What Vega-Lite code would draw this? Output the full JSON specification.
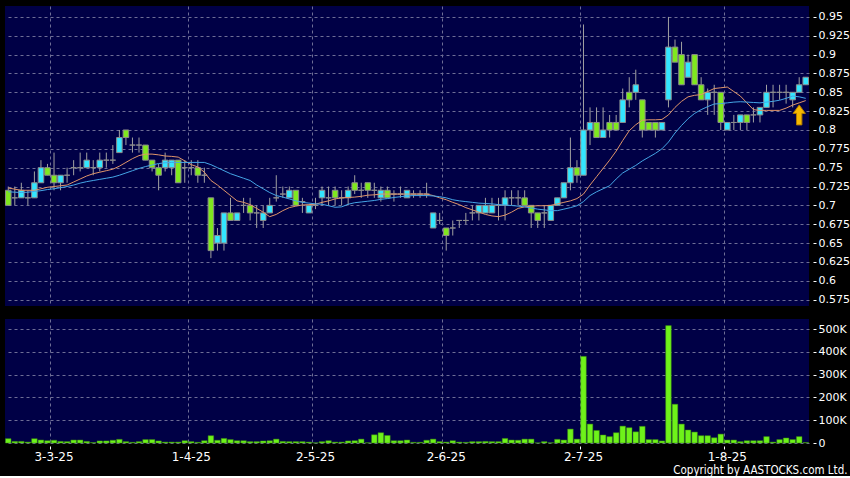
{
"$schema": "https://vega.github.io/schema/vega-lite/v6.json",
"background": "#000000",
"padding": {"left": 4, "top": 6, "right": 0, "bottom": 0},
"spacing": 13,
"config": {
  "view": {"fill": "#000046", "stroke": null},
  "font": "DejaVu Sans",
  "axis": {"labelColor": "#FFFFFF", "labelFont": "DejaVu Sans", "labelFontSize": 11, "tickColor": "#FFFFFF", "domain": false, "gridColor": "#6E6E96", "gridDash": [3, 3], "gridWidth": 1, "labelOverlap": false}
},
"datasets": {
  "k": [
{"d":"2025-02-20","o":0.72,"h":0.725,"l":0.70,"c":0.70,"v":19000,"m10":0.723,"m20":0.718},
{"d":"2025-02-21","o":0.71,"h":0.725,"l":0.70,"c":0.71,"v":7000,"m10":0.7215,"m20":0.7175},
{"d":"2025-02-24","o":0.71,"h":0.73,"l":0.71,"c":0.72,"v":7000,"m10":0.72,"m20":0.717},
{"d":"2025-02-25","o":0.71,"h":0.72,"l":0.70,"c":0.71,"v":4000,"m10":0.72,"m20":0.7175},
{"d":"2025-02-26","o":0.71,"h":0.745,"l":0.71,"c":0.73,"v":19000,"m10":0.72,"m20":0.7185},
{"d":"2025-02-27","o":0.73,"h":0.76,"l":0.73,"c":0.75,"v":13000,"m10":0.722,"m20":0.7195},
{"d":"2025-02-28","o":0.75,"h":0.755,"l":0.74,"c":0.74,"v":10000,"m10":0.724,"m20":0.721},
{"d":"2025-03-03","o":0.74,"h":0.77,"l":0.72,"c":0.73,"v":12000,"m10":0.725,"m20":0.722},
{"d":"2025-03-04","o":0.73,"h":0.74,"l":0.72,"c":0.74,"v":7000,"m10":0.726,"m20":0.7235},
{"d":"2025-03-05","o":0.74,"h":0.75,"l":0.73,"c":0.74,"v":6000,"m10":0.727,"m20":0.725},
{"d":"2025-03-06","o":0.75,"h":0.76,"l":0.74,"c":0.75,"v":13000,"m10":0.731,"m20":0.727},
{"d":"2025-03-07","o":0.75,"h":0.77,"l":0.745,"c":0.75,"v":13000,"m10":0.735,"m20":0.7295},
{"d":"2025-03-10","o":0.75,"h":0.77,"l":0.75,"c":0.76,"v":7000,"m10":0.739,"m20":0.7315},
{"d":"2025-03-11","o":0.75,"h":0.76,"l":0.74,"c":0.75,"v":2000,"m10":0.742,"m20":0.733},
{"d":"2025-03-12","o":0.75,"h":0.77,"l":0.745,"c":0.76,"v":9000,"m10":0.744,"m20":0.7345},
{"d":"2025-03-13","o":0.76,"h":0.77,"l":0.75,"c":0.76,"v":9000,"m10":0.746,"m20":0.736},
{"d":"2025-03-14","o":0.76,"h":0.78,"l":0.755,"c":0.76,"v":12000,"m10":0.748,"m20":0.7375},
{"d":"2025-03-17","o":0.77,"h":0.80,"l":0.77,"c":0.79,"v":16000,"m10":0.752,"m20":0.74},
{"d":"2025-03-18","o":0.80,"h":0.80,"l":0.78,"c":0.79,"v":6000,"m10":0.757,"m20":0.743},
{"d":"2025-03-19","o":0.78,"h":0.79,"l":0.77,"c":0.78,"v":3000,"m10":0.762,"m20":0.746},
{"d":"2025-03-20","o":0.78,"h":0.79,"l":0.77,"c":0.78,"v":6000,"m10":0.766,"m20":0.749},
{"d":"2025-03-21","o":0.78,"h":0.78,"l":0.76,"c":0.76,"v":15000,"m10":0.768,"m20":0.7515},
{"d":"2025-03-24","o":0.76,"h":0.76,"l":0.745,"c":0.75,"v":15000,"m10":0.768,"m20":0.7535},
{"d":"2025-03-25","o":0.75,"h":0.755,"l":0.72,"c":0.74,"v":9000,"m10":0.767,"m20":0.7555},
{"d":"2025-03-26","o":0.75,"h":0.77,"l":0.745,"c":0.76,"v":4000,"m10":0.7655,"m20":0.7565},
{"d":"2025-03-27","o":0.75,"h":0.76,"l":0.74,"c":0.76,"v":4000,"m10":0.765,"m20":0.757},
{"d":"2025-03-28","o":0.76,"h":0.76,"l":0.73,"c":0.73,"v":4000,"m10":0.764,"m20":0.757},
{"d":"2025-03-31","o":0.75,"h":0.76,"l":0.73,"c":0.75,"v":10000,"m10":0.759,"m20":0.757},
{"d":"2025-04-01","o":0.75,"h":0.76,"l":0.74,"c":0.75,"v":6000,"m10":0.754,"m20":0.757},
{"d":"2025-04-02","o":0.75,"h":0.76,"l":0.73,"c":0.74,"v":3000,"m10":0.751,"m20":0.757},
{"d":"2025-04-03","o":0.74,"h":0.75,"l":0.73,"c":0.74,"v":10000,"m10":0.744,"m20":0.757},
{"d":"2025-04-07","o":0.71,"h":0.71,"l":0.63,"c":0.64,"v":32000,"m10":0.733,"m20":0.754},
{"d":"2025-04-08","o":0.65,"h":0.67,"l":0.64,"c":0.66,"v":12000,"m10":0.727,"m20":0.75},
{"d":"2025-04-09","o":0.65,"h":0.69,"l":0.64,"c":0.69,"v":20000,"m10":0.72,"m20":0.746},
{"d":"2025-04-10","o":0.69,"h":0.71,"l":0.68,"c":0.68,"v":15000,"m10":0.713,"m20":0.742},
{"d":"2025-04-11","o":0.68,"h":0.69,"l":0.68,"c":0.69,"v":10000,"m10":0.706,"m20":0.739},
{"d":"2025-04-14","o":0.70,"h":0.71,"l":0.69,"c":0.70,"v":10000,"m10":0.704,"m20":0.736},
{"d":"2025-04-15","o":0.70,"h":0.71,"l":0.68,"c":0.69,"v":6000,"m10":0.701,"m20":0.733},
{"d":"2025-04-16","o":0.69,"h":0.70,"l":0.67,"c":0.69,"v":6000,"m10":0.696,"m20":0.727},
{"d":"2025-04-17","o":0.68,"h":0.70,"l":0.67,"c":0.69,"v":9000,"m10":0.691,"m20":0.722},
{"d":"2025-04-22","o":0.69,"h":0.71,"l":0.69,"c":0.70,"v":10000,"m10":0.685,"m20":0.717},
{"d":"2025-04-23","o":0.71,"h":0.74,"l":0.705,"c":0.71,"v":17000,"m10":0.688,"m20":0.713},
{"d":"2025-04-24","o":0.715,"h":0.725,"l":0.71,"c":0.715,"v":7000,"m10":0.693,"m20":0.711},
{"d":"2025-04-25","o":0.71,"h":0.725,"l":0.71,"c":0.72,"v":6000,"m10":0.697,"m20":0.7085},
{"d":"2025-04-28","o":0.72,"h":0.72,"l":0.70,"c":0.70,"v":6000,"m10":0.699,"m20":0.706},
{"d":"2025-04-29","o":0.705,"h":0.71,"l":0.69,"c":0.705,"v":6000,"m10":0.7005,"m20":0.704},
{"d":"2025-04-30","o":0.69,"h":0.70,"l":0.69,"c":0.70,"v":4000,"m10":0.701,"m20":0.703},
{"d":"2025-05-02","o":0.70,"h":0.71,"l":0.695,"c":0.70,"v":1000,"m10":0.7015,"m20":0.702},
{"d":"2025-05-06","o":0.71,"h":0.725,"l":0.70,"c":0.72,"v":6000,"m10":0.704,"m20":0.7015},
{"d":"2025-05-07","o":0.71,"h":0.725,"l":0.70,"c":0.71,"v":10000,"m10":0.706,"m20":0.6995},
{"d":"2025-05-08","o":0.72,"h":0.725,"l":0.70,"c":0.71,"v":4000,"m10":0.7085,"m20":0.6975},
{"d":"2025-05-09","o":0.71,"h":0.72,"l":0.70,"c":0.71,"v":4000,"m10":0.71,"m20":0.698},
{"d":"2025-05-12","o":0.71,"h":0.725,"l":0.70,"c":0.72,"v":9000,"m10":0.7105,"m20":0.7015},
{"d":"2025-05-13","o":0.73,"h":0.74,"l":0.715,"c":0.72,"v":10000,"m10":0.711,"m20":0.7035},
{"d":"2025-05-14","o":0.72,"h":0.73,"l":0.71,"c":0.72,"v":17000,"m10":0.712,"m20":0.7045},
{"d":"2025-05-15","o":0.73,"h":0.73,"l":0.71,"c":0.72,"v":1000,"m10":0.7135,"m20":0.7055},
{"d":"2025-05-16","o":0.72,"h":0.73,"l":0.71,"c":0.72,"v":36000,"m10":0.714,"m20":0.7065},
{"d":"2025-05-19","o":0.71,"h":0.725,"l":0.705,"c":0.72,"v":45000,"m10":0.715,"m20":0.708},
{"d":"2025-05-20","o":0.72,"h":0.725,"l":0.71,"c":0.71,"v":33000,"m10":0.715,"m20":0.709},
{"d":"2025-05-21","o":0.715,"h":0.72,"l":0.705,"c":0.715,"v":10000,"m10":0.715,"m20":0.7105},
{"d":"2025-05-22","o":0.715,"h":0.725,"l":0.71,"c":0.715,"v":10000,"m10":0.715,"m20":0.7115},
{"d":"2025-05-23","o":0.71,"h":0.72,"l":0.71,"c":0.72,"v":13000,"m10":0.715,"m20":0.7125},
{"d":"2025-05-26","o":0.715,"h":0.72,"l":0.71,"c":0.715,"v":3000,"m10":0.715,"m20":0.713},
{"d":"2025-05-27","o":0.715,"h":0.72,"l":0.71,"c":0.715,"v":3000,"m10":0.715,"m20":0.713},
{"d":"2025-05-28","o":0.715,"h":0.73,"l":0.71,"c":0.715,"v":12000,"m10":0.715,"m20":0.713},
{"d":"2025-05-29","o":0.67,"h":0.69,"l":0.67,"c":0.69,"v":17000,"m10":0.713,"m20":0.7125},
{"d":"2025-05-30","o":0.68,"h":0.69,"l":0.675,"c":0.68,"v":6000,"m10":0.71,"m20":0.7115},
{"d":"2025-06-02","o":0.67,"h":0.67,"l":0.64,"c":0.66,"v":4000,"m10":0.7075,"m20":0.71},
{"d":"2025-06-03","o":0.67,"h":0.68,"l":0.66,"c":0.67,"v":10000,"m10":0.704,"m20":0.7075},
{"d":"2025-06-04","o":0.68,"h":0.68,"l":0.67,"c":0.68,"v":4000,"m10":0.701,"m20":0.706},
{"d":"2025-06-05","o":0.68,"h":0.69,"l":0.675,"c":0.68,"v":3000,"m10":0.697,"m20":0.705},
{"d":"2025-06-06","o":0.69,"h":0.70,"l":0.68,"c":0.69,"v":6000,"m10":0.694,"m20":0.704},
{"d":"2025-06-09","o":0.69,"h":0.70,"l":0.68,"c":0.70,"v":6000,"m10":0.691,"m20":0.703},
{"d":"2025-06-10","o":0.69,"h":0.71,"l":0.69,"c":0.70,"v":7000,"m10":0.688,"m20":0.7025},
{"d":"2025-06-11","o":0.69,"h":0.71,"l":0.69,"c":0.70,"v":6000,"m10":0.686,"m20":0.702},
{"d":"2025-06-12","o":0.70,"h":0.71,"l":0.68,"c":0.70,"v":6000,"m10":0.685,"m20":0.701},
{"d":"2025-06-13","o":0.70,"h":0.72,"l":0.68,"c":0.71,"v":20000,"m10":0.687,"m20":0.7005},
{"d":"2025-06-16","o":0.71,"h":0.72,"l":0.70,"c":0.71,"v":13000,"m10":0.691,"m20":0.6998},
{"d":"2025-06-17","o":0.71,"h":0.72,"l":0.70,"c":0.71,"v":12000,"m10":0.696,"m20":0.699},
{"d":"2025-06-18","o":0.71,"h":0.72,"l":0.70,"c":0.70,"v":17000,"m10":0.698,"m20":0.698},
{"d":"2025-06-19","o":0.70,"h":0.70,"l":0.67,"c":0.69,"v":17000,"m10":0.699,"m20":0.6965},
{"d":"2025-06-20","o":0.69,"h":0.69,"l":0.67,"c":0.68,"v":500,"m10":0.6995,"m20":0.695},
{"d":"2025-06-23","o":0.69,"h":0.70,"l":0.67,"c":0.69,"v":6000,"m10":0.6995,"m20":0.694},
{"d":"2025-06-24","o":0.68,"h":0.70,"l":0.68,"c":0.70,"v":1000,"m10":0.70,"m20":0.693},
{"d":"2025-06-25","o":0.70,"h":0.71,"l":0.70,"c":0.71,"v":16000,"m10":0.702,"m20":0.693},
{"d":"2025-06-26","o":0.71,"h":0.73,"l":0.71,"c":0.73,"v":13000,"m10":0.704,"m20":0.695},
{"d":"2025-06-27","o":0.73,"h":0.79,"l":0.72,"c":0.75,"v":61000,"m10":0.706,"m20":0.697},
{"d":"2025-06-30","o":0.75,"h":0.76,"l":0.73,"c":0.74,"v":17000,"m10":0.709,"m20":0.6995},
{"d":"2025-07-02","o":0.74,"h":0.94,"l":0.74,"c":0.80,"v":380000,"m10":0.715,"m20":0.705},
{"d":"2025-07-03","o":0.80,"h":0.83,"l":0.78,"c":0.81,"v":83000,"m10":0.727,"m20":0.713},
{"d":"2025-07-04","o":0.81,"h":0.83,"l":0.79,"c":0.79,"v":55000,"m10":0.738,"m20":0.718},
{"d":"2025-07-07","o":0.79,"h":0.83,"l":0.79,"c":0.80,"v":35000,"m10":0.749,"m20":0.722},
{"d":"2025-07-08","o":0.81,"h":0.82,"l":0.79,"c":0.80,"v":28000,"m10":0.76,"m20":0.726},
{"d":"2025-07-09","o":0.81,"h":0.82,"l":0.80,"c":0.80,"v":45000,"m10":0.772,"m20":0.735},
{"d":"2025-07-10","o":0.81,"h":0.855,"l":0.81,"c":0.84,"v":74000,"m10":0.786,"m20":0.743},
{"d":"2025-07-11","o":0.85,"h":0.87,"l":0.83,"c":0.84,"v":67000,"m10":0.799,"m20":0.748},
{"d":"2025-07-14","o":0.85,"h":0.88,"l":0.84,"c":0.86,"v":49000,"m10":0.807,"m20":0.753},
{"d":"2025-07-15","o":0.84,"h":0.84,"l":0.79,"c":0.80,"v":73000,"m10":0.813,"m20":0.759},
{"d":"2025-07-16","o":0.81,"h":0.81,"l":0.80,"c":0.80,"v":15000,"m10":0.8135,"m20":0.764},
{"d":"2025-07-17","o":0.81,"h":0.81,"l":0.79,"c":0.80,"v":15000,"m10":0.8135,"m20":0.769},
{"d":"2025-07-18","o":0.80,"h":0.81,"l":0.80,"c":0.81,"v":9000,"m10":0.814,"m20":0.775},
{"d":"2025-07-21","o":0.84,"h":0.95,"l":0.83,"c":0.91,"v":515000,"m10":0.82,"m20":0.784},
{"d":"2025-07-22","o":0.91,"h":0.92,"l":0.89,"c":0.89,"v":170000,"m10":0.83,"m20":0.796},
{"d":"2025-07-23","o":0.90,"h":0.917,"l":0.86,"c":0.86,"v":83000,"m10":0.838,"m20":0.806},
{"d":"2025-07-24","o":0.87,"h":0.90,"l":0.87,"c":0.89,"v":57000,"m10":0.844,"m20":0.815},
{"d":"2025-07-25","o":0.90,"h":0.90,"l":0.86,"c":0.86,"v":48000,"m10":0.846,"m20":0.822},
{"d":"2025-07-28","o":0.86,"h":0.87,"l":0.84,"c":0.84,"v":32000,"m10":0.847,"m20":0.827},
{"d":"2025-07-29","o":0.84,"h":0.855,"l":0.82,"c":0.85,"v":32000,"m10":0.851,"m20":0.831},
{"d":"2025-07-30","o":0.85,"h":0.86,"l":0.82,"c":0.85,"v":23000,"m10":0.855,"m20":0.8345},
{"d":"2025-07-31","o":0.85,"h":0.85,"l":0.80,"c":0.81,"v":39000,"m10":0.856,"m20":0.835},
{"d":"2025-08-01","o":0.80,"h":0.81,"l":0.80,"c":0.81,"v":13000,"m10":0.857,"m20":0.836},
{"d":"2025-08-04","o":0.81,"h":0.82,"l":0.80,"c":0.81,"v":13000,"m10":0.851,"m20":0.837},
{"d":"2025-08-05","o":0.81,"h":0.82,"l":0.80,"c":0.82,"v":6000,"m10":0.845,"m20":0.8375},
{"d":"2025-08-06","o":0.82,"h":0.82,"l":0.80,"c":0.81,"v":10000,"m10":0.836,"m20":0.837},
{"d":"2025-08-07","o":0.82,"h":0.83,"l":0.81,"c":0.82,"v":10000,"m10":0.827,"m20":0.8365},
{"d":"2025-08-08","o":0.82,"h":0.83,"l":0.81,"c":0.83,"v":10000,"m10":0.826,"m20":0.836},
{"d":"2025-08-11","o":0.83,"h":0.86,"l":0.83,"c":0.85,"v":28000,"m10":0.826,"m20":0.837},
{"d":"2025-08-12","o":0.85,"h":0.86,"l":0.83,"c":0.85,"v":4000,"m10":0.826,"m20":0.838},
{"d":"2025-08-13","o":0.85,"h":0.86,"l":0.84,"c":0.85,"v":15000,"m10":0.826,"m20":0.8395},
{"d":"2025-08-14","o":0.85,"h":0.86,"l":0.835,"c":0.85,"v":22000,"m10":0.829,"m20":0.842},
{"d":"2025-08-15","o":0.84,"h":0.85,"l":0.83,"c":0.85,"v":15000,"m10":0.833,"m20":0.845},
{"d":"2025-08-18","o":0.85,"h":0.87,"l":0.85,"c":0.86,"v":28000,"m10":0.836,"m20":0.844},
{"d":"2025-08-19","o":0.86,"h":0.87,"l":0.86,"c":0.87,"v":2000,"m10":0.839,"m20":0.842}
  ],
  "arrow": [{"d": "2025-08-18", "y": 0.82}]
},
"vconcat": [
  {
    "width": 804,
    "height": 300,
    "data": {"name": "k"},
    "encoding": {
      "x": {"field": "d", "type": "ordinal", "title": null,
        "scale": {"paddingInner": 0, "paddingOuter": 0},
        "axis": {"values": ["2025-03-03","2025-04-01","2025-05-02","2025-06-02","2025-07-02","2025-08-01"], "labels": false, "ticks": false, "grid": true, "bandPosition": 0, "title": null}}
    },
    "layer": [
      {"mark": {"type": "rule", "color": "#A0A0A0", "strokeWidth": 1},
       "encoding": {
         "y": {"field": "l", "type": "quantitative", "title": null,
           "scale": {"domain": [0.5665, 0.9645], "nice": false, "zero": false},
           "axis": {"orient": "right", "values": [0.575,0.6,0.625,0.65,0.675,0.7,0.725,0.75,0.775,0.8,0.825,0.85,0.875,0.9,0.925,0.95], "tickCount": 40, "labelExpr": "format(datum.value, '.3~g')", "grid": true, "offset": 4, "tickSize": 3, "labelPadding": 2, "title": null}},
         "y2": {"field": "h"}}},
      {"mark": {"type": "bar", "width": {"band": 0.85}, "stroke": "#8C8C8C", "strokeWidth": 1},
       "encoding": {
         "y": {"field": "o", "type": "quantitative", "title": null},
         "y2": {"field": "c"},
         "color": {"condition": {"test": "datum.c >= datum.o", "value": "#33E6FF"}, "value": "#7FE81E"}}},
      {"mark": {"type": "line", "color": "#E0956A", "strokeWidth": 1},
       "encoding": {"y": {"field": "m10", "type": "quantitative", "title": null}}},
      {"mark": {"type": "line", "color": "#45A6E6", "strokeWidth": 1},
       "encoding": {"y": {"field": "m20", "type": "quantitative", "title": null}}},
      {"data": {"name": "arrow"},
       "mark": {"type": "point", "shape": "M0,-1L0.62,-0.15L0.27,-0.15L0.27,1L-0.27,1L-0.27,-0.15L-0.62,-0.15Z", "size": 400, "filled": true, "fill": "#F5B800", "stroke": "#B07800", "strokeWidth": 1, "opacity": 1},
       "encoding": {"y": {"field": "y", "type": "quantitative", "title": null}}}
    ]
  },
  {
    "width": 804,
    "height": 124,
    "data": {"name": "k"},
    "mark": {"type": "bar", "width": {"band": 0.85}, "color": "#6EF21A", "stroke": "#3A8A10", "strokeWidth": 0.5},
    "encoding": {
      "x": {"field": "d", "type": "ordinal",
        "scale": {"paddingInner": 0, "paddingOuter": 0},
        "axis": {"values": ["2025-03-03","2025-04-01","2025-05-02","2025-06-02","2025-07-02","2025-08-01"],
          "labelExpr": "utcFormat(toDate(datum.value), '%-d-%-m-%y')", "labelAngle": 0, "grid": true, "bandPosition": 0,
          "tickSize": 3, "offset": 3, "labelFontSize": 12, "labelPadding": 2,
          "title": "Copyright by AASTOCKS.com Ltd.", "titleX": 842, "titleY": 24, "titleAnchor": null, "titleAlign": "right", "titleBaseline": "middle",
          "titleColor": "#FFFFFF", "titleFont": "DejaVu Sans Condensed, Liberation Sans Narrow, Liberation Sans", "titleFontSize": 11.5, "titleFontWeight": "normal"}},
      "y": {"field": "v", "type": "quantitative", "title": null,
        "scale": {"domain": [0, 544000], "nice": false},
        "axis": {"orient": "right", "values": [0,100000,200000,300000,400000,500000], "tickCount": 20, "labelExpr": "datum.value == 0 ? '0' : (datum.value/1000) + 'K'", "grid": true, "offset": 4, "tickSize": 3, "labelPadding": 2, "title": null}}
    }
  }
]
}
